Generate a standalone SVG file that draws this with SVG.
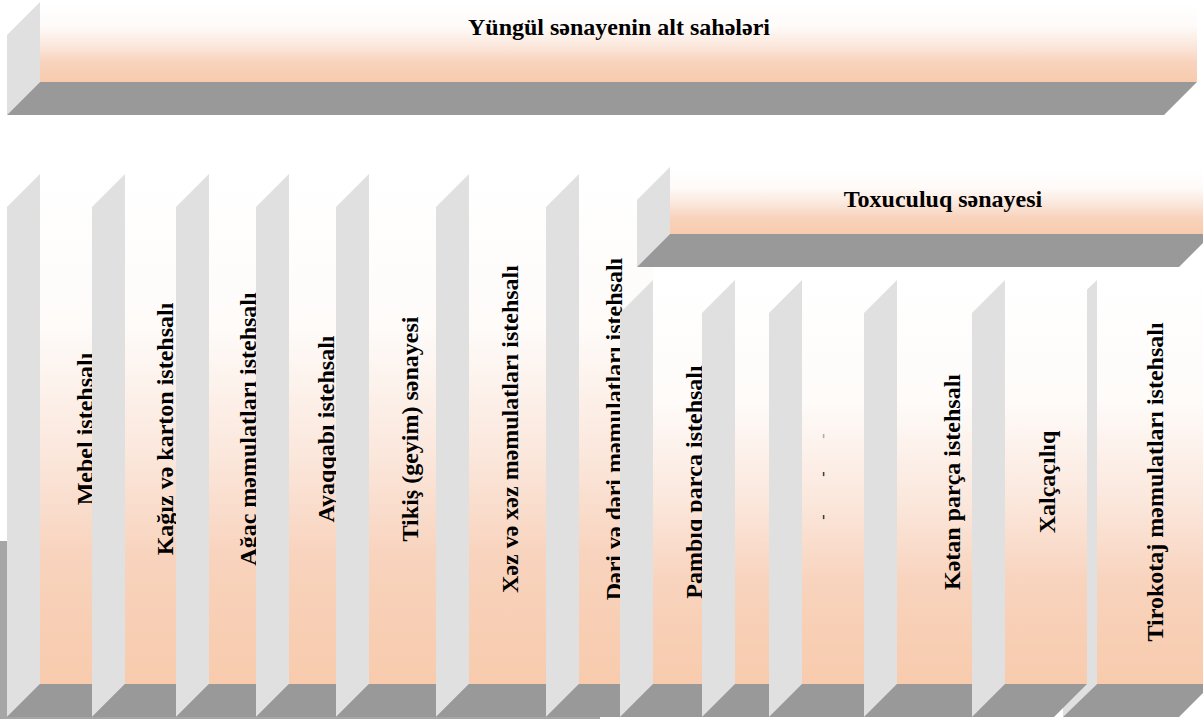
<svg xmlns="http://www.w3.org/2000/svg" width="1203" height="719" viewBox="0 0 1203 719">
<style>
.front{fill:url(#fg)}
.side{fill:#e0e0e0}
.bottom{fill:#999999}
.lbl{font-family:"Liberation Serif","Times New Roman",serif;font-weight:bold;font-size:24px;fill:#000;text-anchor:middle}
.mark{font-family:"Liberation Serif","Times New Roman",serif;font-size:16px;fill:#222;text-anchor:middle}
</style>
<defs>
<linearGradient id="fg" x1="0" y1="0" x2="0" y2="1">
<stop offset="0" stop-color="#ffffff"/>
<stop offset="0.3" stop-color="#fefbf9"/>
<stop offset="0.55" stop-color="#fbe7dc"/>
<stop offset="0.75" stop-color="#f8d3bd"/>
<stop offset="1" stop-color="#f8cbad"/>
</linearGradient>
</defs>
<rect x="0" y="541" width="600" height="178" fill="#a6a6a6"/>

<g id="top">
<rect class="front" x="40" y="2" width="1157" height="80"/>
<polygon class="side" points="7,35 40,2 40,82 7,115"/>
<polygon class="bottom" points="40,82 1197,82 1164,115 7,115"/>
<text class="lbl" x="619" y="35">Yüngül sənayenin alt sahələri</text>
</g>

<g id="mebel">
<rect class="front" x="40" y="174" width="85" height="510"/>
<polygon class="side" points="7,207 40,174 40,684 7,717"/>
<polygon class="bottom" points="40,684 125,684 92,717 7,717"/>
<text class="lbl" transform="translate(93,429) rotate(-90)">Mebel istehsalı</text>
</g>

<g id="kagiz">
<rect class="front" x="125" y="174" width="84" height="510"/>
<polygon class="side" points="92,207 125,174 125,684 92,717"/>
<polygon class="bottom" points="125,684 209,684 176,717 92,717"/>
<text class="lbl" transform="translate(173,429) rotate(-90)">Kağız və karton istehsalı</text>
</g>

<g id="agac">
<rect class="front" x="209" y="174" width="80" height="510"/>
<polygon class="side" points="176,207 209,174 209,684 176,717"/>
<polygon class="bottom" points="209,684 289,684 256,717 176,717"/>
<text class="lbl" transform="translate(256,429) rotate(-90)">Ağac məmulatları istehsalı</text>
</g>

<g id="ayaqqabi">
<rect class="front" x="289" y="174" width="80" height="510"/>
<polygon class="side" points="256,207 289,174 289,684 256,717"/>
<polygon class="bottom" points="289,684 369,684 336,717 256,717"/>
<text class="lbl" transform="translate(334,429) rotate(-90)">Ayaqqabı istehsalı</text>
</g>

<g id="tikis">
<rect class="front" x="369" y="174" width="100" height="510"/>
<polygon class="side" points="336,207 369,174 369,684 336,717"/>
<polygon class="bottom" points="369,684 469,684 436,717 336,717"/>
<text class="lbl" transform="translate(418,429) rotate(-90)">Tikiş (geyim) sənayesi</text>
</g>

<g id="xez">
<rect class="front" x="469" y="174" width="110" height="510"/>
<polygon class="side" points="436,207 469,174 469,684 436,717"/>
<polygon class="bottom" points="469,684 579,684 546,717 436,717"/>
<text class="lbl" transform="translate(518,429) rotate(-90)">Xəz və xəz məmulatları istehsalı</text>
</g>

<g id="deri">
<rect class="front" x="579" y="174" width="74" height="510"/>
<polygon class="side" points="546,207 579,174 579,684 546,717"/>
<polygon class="bottom" points="579,684 653,684 620,717 546,717"/>
<text class="lbl" transform="translate(622,429) rotate(-90)">Dəri və dəri məmulatları istehsalı</text>
</g>

<g id="toxuculuq">
<rect class="front" x="670" y="167" width="542" height="67"/>
<polygon class="side" points="637,200 670,167 670,234 637,267"/>
<polygon class="bottom" points="670,234 1212,234 1179,267 637,267"/>
<text class="lbl" x="943" y="207">Toxuculuq sənayesi</text>
</g>

<g id="pambiq">
<rect class="front" x="653" y="280" width="82" height="404"/>
<polygon class="side" points="620,313 653,280 653,684 620,717"/>
<polygon class="bottom" points="653,684 735,684 702,717 620,717"/>
<text class="lbl" transform="translate(702,482) rotate(-90)">Pambıq parça istehsalı</text>
</g>

<g id="box9">
<rect class="front" x="735" y="280" width="67" height="404"/>
<polygon class="side" points="702,313 735,280 735,684 702,717"/>
<polygon class="bottom" points="735,684 802,684 769,717 702,717"/>
</g>

<g id="box10">
<rect class="front" x="802" y="280" width="95" height="404"/>
<polygon class="side" points="769,313 802,280 802,684 769,717"/>
<polygon class="bottom" points="802,684 897,684 864,717 769,717"/>
<text class="mark" transform="translate(828,436) rotate(-90)" opacity="0.4">-</text>
<text class="mark" transform="translate(828,474) rotate(-90)">-</text>
<text class="mark" transform="translate(828,517) rotate(-90)">-</text>
</g>

<g id="ketan">
<rect class="front" x="897" y="280" width="108" height="404"/>
<polygon class="side" points="864,313 897,280 897,684 864,717"/>
<polygon class="bottom" points="897,684 1005,684 972,717 864,717"/>
<text class="lbl" transform="translate(960,482) rotate(-90)">Kətan parça istehsalı</text>
</g>

<g id="tirokotaj">
<rect class="front" x="1097" y="280" width="115" height="404"/>
<polygon class="side" points="1063,313 1097,280 1097,684 1063,717"/>
<polygon class="bottom" points="1097,684 1212,684 1179,717 1063,717"/>
<text class="lbl" transform="translate(1163,482) rotate(-90)">Tirokotaj məmulatları istehsalı</text>
</g>

<g id="xalcaciliq">
<rect class="front" x="1005" y="280" width="82" height="404"/>
<polygon class="side" points="972,313 1005,280 1005,684 972,717"/>
<polygon class="bottom" points="1005,684 1087,684 1054,717 972,717"/>
<text class="lbl" transform="translate(1055,482) rotate(-90)">Xalçaçılıq</text>
</g>

<g id="connectors"/>
</svg>
